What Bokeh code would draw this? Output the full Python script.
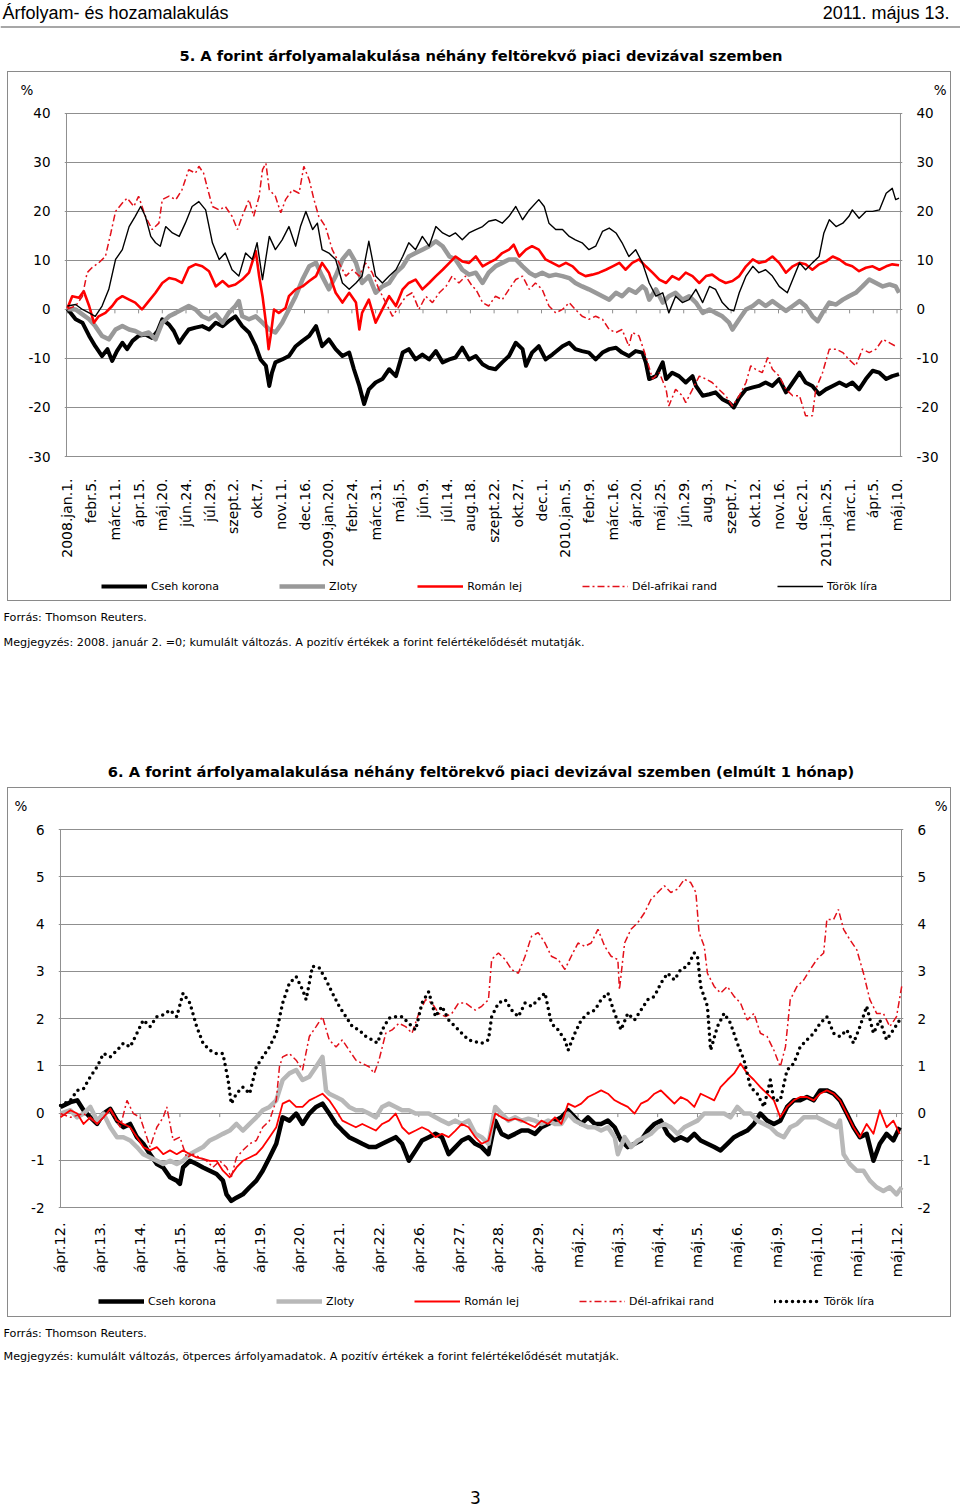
import math
from bokeh.plotting import figure
from bokeh.models import Range1d, FixedTicker, LinearAxis, Legend, LegendItem, Span
from bokeh.layouts import column
from bokeh.core.properties import value
from bokeh.embed import file_html
from bokeh.resources import INLINE

# ================= Chart 5: daily data, x = days since 2008-01-01 =================
c5_tick_labels = ["2008.jan.1.", "febr.5.", "márc.11.", "ápr.15.", "máj.20.", "jún.24.", "júl.29.",
                  "szept.2.", "okt.7.", "nov.11.", "dec.16.", "2009.jan.20.", "febr.24.", "márc.31.",
                  "máj.5.", "jún.9.", "júl.14.", "aug.18.", "szept.22.", "okt.27.", "dec.1.",
                  "2010.jan.5.", "febr.9.", "márc.16.", "ápr.20.", "máj.25.", "jún.29.", "aug.3.",
                  "szept.7.", "okt.12.", "nov.16.", "dec.21.", "2011.jan.25.", "márc.1.", "ápr.5.", "máj.10."]
c5_tick_days = [35 * i for i in range(len(c5_tick_labels))]
c5_yticks = [-30, -20, -10, 0, 10, 20, 30, 40]

cseh5_x = [0, 12, 22, 32, 41, 51, 59, 66, 73, 81, 88, 96, 105, 115, 125, 133, 140, 150, 157, 165, 172, 179, 189,
           199, 209, 219, 229, 238, 248, 258, 268, 278, 285, 293, 298, 302, 307, 317, 327, 337, 347, 357, 367,
           376, 386, 396, 406, 416, 423, 431, 438, 445, 455, 465, 475, 485, 495, 504, 514, 524, 534, 544, 554,
           564, 573, 583, 593,
           603, 613, 622, 632, 642, 652, 662, 672, 677, 686, 696, 706, 716, 731, 741, 750, 760, 770, 780, 790,
           800, 810, 819, 829, 839, 849, 854, 859, 869, 879, 884, 893, 903, 913, 923, 928, 938, 948, 957, 967,
           977, 984, 992, 1002, 1012, 1021, 1031, 1041, 1051, 1061, 1071, 1081, 1090, 1100, 1110, 1120, 1130,
           1140, 1150, 1159, 1169, 1179, 1189, 1199, 1209, 1218, 1228]
cseh5_y = [0.1, -2.0, -2.7, -5.4, -7.5, -9.5, -8.1, -10.5, -8.5, -6.8, -8.1, -6.4, -5.4, -5.1, -5.8, -4.4, -2.0,
           -3.1, -4.4, -6.8, -5.4, -4.1, -3.7, -3.4, -4.1, -2.7, -3.4, -2.4, -1.4, -3.4, -4.7, -7.5, -10.2, -11.5,
           -15.6, -12.9, -10.8, -10.2, -9.5, -7.5, -6.4, -5.4, -3.4, -7.5, -6.1, -8.1, -9.5, -8.8, -12.2, -15.6,
           -19.3, -16.3, -14.9, -14.2, -12.2, -13.6, -8.8, -8.1, -10.2, -9.2, -10.2, -8.5, -10.8, -10.2, -9.8,
           -7.8, -10.2,
           -9.5, -11.2, -11.9, -12.2, -10.8, -9.5, -6.8, -8.1, -11.5, -8.8, -7.5, -10.2, -9.2, -7.5, -6.8, -8.1,
           -8.5, -8.8, -10.2, -8.8, -8.1, -7.8, -8.8, -9.5, -8.5, -8.8, -10.8, -14.2, -13.6, -10.8, -14.2, -12.9,
           -13.6, -14.9, -13.6, -15.6, -17.6, -17.3, -16.9, -18.3, -19.0, -20.0, -18.0, -16.3, -15.9, -15.6,
           -14.9, -15.6, -14.2, -16.9, -14.9, -12.9, -14.9, -15.6, -17.3, -16.3, -15.6, -14.9, -15.6, -14.9,
           -16.3, -14.2, -12.5, -12.9, -14.2, -13.6, -13.2]

zloty5_x = [0, 12, 22, 32, 41, 51, 61, 71, 81, 91, 100, 110, 120, 130, 140, 150, 160, 169, 179, 189, 199, 209,
            219, 229, 238, 248, 253, 258, 268, 278, 288, 298, 307, 317, 327, 337, 347, 357, 367, 376, 386, 396,
            406, 416, 426, 435, 445, 455, 465, 475, 485, 495, 504, 514, 524, 534, 544, 554, 564, 573, 583, 593,
            603, 613, 622, 632, 642, 652, 662, 672, 682, 691, 701, 711, 721, 731, 741, 750, 760, 770, 780, 790,
            800, 810, 819, 829, 839, 849, 854, 859, 869, 879, 888, 898, 908, 918, 928, 938, 948, 957, 967, 977,
            982, 992, 1002, 1012, 1021, 1031, 1041, 1051, 1061, 1071, 1081, 1090, 1100, 1108, 1115, 1125, 1135,
            1145, 1154, 1164, 1174, 1184, 1194, 1204, 1214, 1223, 1228]
zloty5_y = [0.1, 0, -1.0, -2.0, -3.4, -5.4, -6.1, -4.1, -3.4, -4.1, -4.4, -5.1, -4.7, -6.1, -2.7, -1.4, -0.7, 0,
            0.7, 0, -1.4, -2.0, -1.0, -2.7, -0.7, 0.7, 1.7, -1.4, -2.0, -1.4, -2.7, -4.1, -4.7, -2.7, 0, 2.7, 6.1,
            8.8, 9.5, 6.8, 4.1, 6.8, 10.2, 11.9, 9.5, 5.4, 6.8, 3.4, 4.7, 5.4, 7.5, 8.8, 10.8, 11.5, 12.2, 12.9,
            13.9, 12.9, 10.8, 10.2, 8.1, 7.1,
            7.5, 5.4, 7.5, 8.8, 9.5, 10.2, 10.2, 8.8, 7.5, 6.8, 7.5, 6.8, 7.1, 6.8, 6.4, 5.4, 4.7, 4.1, 3.4, 2.7,
            2.0, 3.4, 2.7, 4.1, 3.4, 4.7, 4.1, 2.0, 4.1, 1.4, 2.7, 3.4, 2.0, 2.7, 1.4, -0.7, 0, -0.7, -1.4, -2.7,
            -4.1, -2.0, 0, 0.7, 1.7, 0.7, 1.7, 0.7, -0.3, 0.7, 1.7, 0.7, -1.4, -2.4, -0.7, 1.4, 1.0, 2.0, 2.7,
            3.4, 4.7, 6.1, 5.4, 4.7, 5.1, 4.7, 3.4]

roman5_x = [0, 7, 17, 24, 32, 39, 46, 56, 66, 73, 81, 91, 100, 110, 120, 130, 140, 150, 160, 169, 179, 189, 199,
            209, 219, 229, 238, 248, 258, 268, 278, 283, 288, 293, 297, 300, 305, 312, 322, 327, 337, 347, 357,
            367, 376, 386, 396, 406, 416, 426, 431, 435, 445, 455, 465, 475, 485, 495, 504, 514, 524, 534, 544,
            554, 564, 573, 583, 593,
            603, 613, 622, 632, 642, 652, 659, 667, 677, 686, 696, 706, 716, 726, 736, 746, 755, 765, 775, 785,
            795, 805, 815, 824, 834, 844, 854, 864, 874, 884, 893, 903, 913, 923, 933, 943, 952, 962, 972, 982,
            992, 1002, 1012, 1021, 1031, 1041, 1051, 1061, 1071, 1081, 1090, 1100, 1110, 1120, 1130, 1140, 1150,
            1159, 1169, 1179, 1189, 1199, 1209, 1218, 1228]
roman5_y = [0.3, 2.7, 2.4, 3.7, 0.7, -2.7, -1.4, -0.7, 0.7, 2.0, 2.7, 2.0, 1.4, 0, 1.7, 3.4, 5.4, 6.4, 6.1, 5.4,
            8.5, 9.2, 8.8, 7.8, 4.7, 5.8, 4.7, 5.1, 6.1, 7.5, 11.9, 6.8, 2.7, -2.7, -8.1, -5.4, 0, -0.7, 0.3, 2.7,
            4.1, 4.7, 5.8, 6.8, 9.5, 7.5, 3.4, 1.4, 3.4, 1.4, -4.1, -0.7, 2.0, -2.7, 0, 2.7, 0.7, 4.1, 5.4, 6.1,
            4.1, 5.4, 6.8, 8.1, 9.5, 10.8, 9.8, 9.5,
            10.8, 8.8, 9.5, 10.2, 11.5, 12.2, 13.2, 10.8, 12.2, 12.9, 12.2, 10.2, 9.5, 8.8, 9.5, 8.8, 7.5, 6.8,
            7.1, 7.5, 8.1, 8.8, 9.5, 8.1, 9.5, 10.2, 8.8, 7.5, 6.1, 5.4, 6.8, 6.1, 7.5, 6.8, 5.4, 6.8, 7.1, 6.1,
            5.4, 5.8, 6.8, 8.8, 10.2, 9.5, 9.8, 10.8, 9.5, 7.5, 8.8, 9.5, 9.2, 8.1, 9.2, 9.8, 10.8, 10.2, 9.2,
            8.8, 7.8, 8.5, 8.8, 8.1, 8.8, 9.2, 9.0]

rand5_x = [0, 12, 22, 29, 36, 46, 56, 64, 71, 81, 88, 98, 105, 115, 125, 135, 140, 150, 160, 169, 179, 189, 194,
           201, 206, 214, 224, 233, 243, 251, 258, 268, 275, 283, 288, 293, 298, 307, 315, 322, 332, 342, 349,
           357, 364, 371, 381, 391, 401, 411, 421, 431, 440, 450, 460, 470, 480, 490, 500, 509, 519, 529, 539,
           549, 559, 568, 578, 588, 598,
           603, 613, 622, 632, 642, 652, 662, 672, 682, 691, 701, 711, 721, 731, 741, 750, 760, 770, 780, 790,
           800, 810, 819, 829, 834, 844, 854, 864, 874, 884, 888, 898, 908, 913, 923, 933, 943, 952, 962, 972,
           982, 992, 1002, 1009, 1016, 1026, 1034, 1041, 1051, 1061, 1071, 1081, 1090, 1100, 1105, 1115, 1125,
           1135, 1145, 1154, 1164, 1174, 1184, 1194, 1204, 1214, 1223]
rand5_y = [0.1, 0.7, 2.7, 7.5, 8.5, 9.5, 10.8, 15.6, 20.0, 21.7, 22.7, 21.0, 23.1, 19.0, 16.3, 17.6, 22.4, 23.1,
           22.4, 24.4, 28.5, 27.8, 29.2, 27.8, 25.1, 21.0, 20.3, 21.0, 19.0, 16.3, 19.0, 22.4, 19.0, 23.1, 28.5,
           29.8, 24.4, 23.1, 19.7, 22.4, 24.4, 23.7, 29.2, 26.4, 22.4, 19.0, 16.9, 12.2, 9.5, 6.8, 8.1, 6.8, 9.5,
           7.5, 4.1, 1.4, -1.4, 0.7, 2.7, 3.4, 0, 2.7, 1.4, 3.4, 4.7, 6.8, 5.4, 6.8, 4.7,
           4.1, 1.4, 0.7, 2.7, 2.0, 4.1, 6.1, 6.8, 4.1, 5.4, 4.1, 0.7, -0.7, 0, 1.4, 0, -1.4, -2.0, -1.4, -2.0,
           -4.1, -4.7, -4.1, -7.5, -4.7, -5.4, -9.5, -14.2, -12.9, -16.3, -19.7, -16.3, -17.6, -19.0, -16.3,
           -13.6, -14.2, -14.9, -16.3, -17.6, -19.7, -17.6, -14.9, -11.5, -12.2, -12.9, -9.8, -12.2, -13.6,
           -16.3, -17.6, -17.6, -21.7, -21.7, -16.3, -12.9, -8.1, -8.1, -8.8, -10.2, -11.5, -8.1, -8.8, -8.1,
           -6.1, -6.8, -7.5]

torok5_x = [0, 12, 22, 32, 41, 51, 61, 71, 81, 91, 100, 108, 115, 123, 130, 137, 145, 155, 165, 174, 184, 194,
            204, 214, 224, 233, 243, 253, 263, 273, 280, 288, 298, 307, 317, 327, 337, 344, 352, 362, 369, 376,
            386, 396, 406, 416, 426, 435, 445, 455, 465, 475, 485, 495, 504, 514, 524, 534, 544, 554, 564, 573,
            583, 593,
            603, 613, 622, 632, 642, 652, 662, 672, 682, 696, 704, 711, 721, 731, 741, 750, 760, 770, 780, 790,
            800, 810, 819, 829, 839, 849, 859, 869, 879, 888, 898, 908, 918, 928, 938, 948, 957, 967, 977, 984,
            992, 1002, 1012, 1021, 1031, 1041, 1051, 1063, 1071, 1081, 1090, 1100, 1110, 1117, 1125, 1135, 1145,
            1154, 1159, 1169, 1179, 1189, 1199, 1209, 1218, 1223, 1228]
torok5_y = [0.7, 1.0, 0, -0.7, -1.4, 0.7, 4.1, 10.2, 12.2, 16.9, 19.0, 21.0, 19.0, 14.9, 13.6, 12.9, 16.9, 15.6,
            14.9, 17.6, 21.0, 22.0, 20.3, 13.6, 10.2, 11.5, 8.1, 6.8, 11.5, 10.2, 13.6, 6.1, 14.9, 12.2, 14.2,
            16.9, 12.9, 16.9, 20.0, 16.3, 17.6, 12.2, 11.5, 10.2, 5.4, 4.1, 5.4, 6.8, 13.9, 6.8, 5.4, 6.8, 8.1,
            10.8, 13.6, 12.2, 14.9, 12.9, 16.9, 15.6, 14.9, 15.6, 14.2, 15.6,
            16.3, 16.9, 18.0, 18.3, 17.6, 19.0, 21.0, 18.3, 20.3, 22.4, 21.0, 17.6, 16.3, 16.3, 14.9, 14.2, 13.6,
            12.2, 12.9, 15.9, 16.6, 15.6, 13.6, 10.8, 12.2, 9.5, 5.4, 2.7, 3.4, -0.7, 2.7, 1.4, 2.0, 4.1, 1.4,
            4.7, 4.1, 1.4, 0, -0.3, 3.4, 6.8, 8.8, 7.5, 8.1, 6.8, 4.7, 3.4, 6.1, 9.5, 8.1, 9.5, 10.8, 15.6, 18.3,
            16.9, 17.6, 19.0, 20.3, 18.6, 20.0, 20.0, 20.3, 23.7, 24.7, 22.4, 22.7]

# ================= Chart 6: five-minute data, x = trading-day index from 12 April =================
c6_tick_labels = ["ápr.12.", "ápr.13.", "ápr.14.", "ápr.15.", "ápr.18.", "ápr.19.", "ápr.20.", "ápr.21.",
                  "ápr.22.", "ápr.26.", "ápr.27.", "ápr.28.", "ápr.29.", "máj.2.", "máj.3.", "máj.4.",
                  "máj.5.", "máj.6.", "máj.9.", "máj.10.", "máj.11.", "máj.12."]
c6_tick_pos = list(range(len(c6_tick_labels)))
c6_yticks = [-2, -1, 0, 1, 2, 3, 4, 5, 6]

cseh6_x = [0, 0.25, 0.42, 0.58, 0.75, 0.92, 1.08, 1.25, 1.42, 1.58, 1.75, 1.92, 2.08, 2.25, 2.42, 2.58, 2.75,
           2.92, 3.0, 3.08, 3.25, 3.42, 3.58, 3.75, 3.92, 4.08, 4.17, 4.29, 4.42, 4.58, 4.75, 4.92, 5.08, 5.25,
           5.42, 5.58, 5.75, 5.92, 6.08, 6.25, 6.42, 6.58, 6.75, 6.92, 7.08, 7.25, 7.42, 7.58, 7.75, 7.92, 8.08,
           8.25, 8.42, 8.58, 8.75, 8.92, 9.08, 9.25, 9.42, 9.58, 9.75, 9.92, 10.08, 10.25,
           10.42, 10.58, 10.75, 10.92, 11.08, 11.25, 11.42, 11.58, 11.75, 11.92, 12.08, 12.25, 12.42, 12.58,
           12.75, 12.92, 13.08, 13.25, 13.42, 13.58, 13.75, 13.92, 14.08, 14.25, 14.42, 14.58, 14.75, 14.92,
           15.08, 15.25, 15.42, 15.58, 15.75, 15.92, 16.08, 16.25, 16.42, 16.58, 16.75, 16.92, 17.08, 17.25,
           17.42, 17.58, 17.75, 17.92, 18.08, 18.25, 18.42, 18.58, 18.75, 18.92, 19.08, 19.25, 19.42, 19.58,
           19.75, 19.92, 20.08, 20.25, 20.42, 20.58, 20.75, 20.92, 21.08]
cseh6_y = [0.13, 0.23, 0.27, 0.06, -0.09, -0.23, -0.01, 0.09, -0.16, -0.3, -0.23, -0.51, -0.65, -0.87, -1.08,
           -1.15, -1.36, -1.43, -1.5, -1.15, -1.01, -1.08, -1.15, -1.22, -1.29, -1.43, -1.72, -1.86, -1.79,
           -1.72, -1.57, -1.43, -1.22, -0.94, -0.65, -0.09, -0.16, -0.01, -0.23, -0.01, 0.13, 0.2, -0.01, -0.23,
           -0.37, -0.51, -0.58, -0.65, -0.72, -0.72, -0.65, -0.58, -0.51, -0.65, -1.01, -0.79, -0.58, -0.51,
           -0.44, -0.51, -0.87, -0.72, -0.58, -0.51,
           -0.65, -0.72, -0.87, -0.16, -0.44, -0.51, -0.44, -0.37, -0.37, -0.44, -0.3, -0.23, -0.16, -0.09,
           0.06, -0.09, -0.23, -0.09, -0.23, -0.23, -0.16, -0.3, -0.58, -0.72, -0.65, -0.58, -0.37, -0.23,
           -0.16, -0.44, -0.58, -0.51, -0.58, -0.44, -0.58, -0.65, -0.72, -0.79, -0.65, -0.51, -0.44, -0.37,
           -0.23, -0.01, -0.16, -0.23, -0.16, 0.13, 0.27, 0.27, 0.34, 0.27, 0.48, 0.48, 0.41, 0.27, -0.01, -0.3,
           -0.51, -0.44, -1.01, -0.65, -0.44, -0.58, -0.3]

zloty6_x = [0, 0.25, 0.42, 0.58, 0.75, 0.92, 1.08, 1.25, 1.42, 1.58, 1.75, 1.92, 2.08, 2.25, 2.42, 2.58, 2.75,
            2.92, 3.08, 3.25, 3.42, 3.58, 3.75, 3.92, 4.08, 4.25, 4.42, 4.58, 4.75, 4.92, 5.08, 5.25, 5.42, 5.58,
            5.75, 5.92, 6.08, 6.25, 6.42, 6.58, 6.67, 6.75, 6.92, 7.08, 7.25, 7.42, 7.58, 7.75, 7.92, 8.08, 8.25,
            8.42, 8.58, 8.75, 8.92, 9.08, 9.25, 9.42, 9.58, 9.75, 9.92, 10.08, 10.25,
            10.42, 10.58, 10.75, 10.92, 11.08, 11.25, 11.42, 11.58, 11.75, 11.92, 12.08, 12.25, 12.42, 12.58,
            12.75, 12.92, 13.08, 13.25, 13.42, 13.58, 13.75, 13.92, 14.0, 14.17, 14.33, 14.5, 14.67, 14.83, 15.0,
            15.17, 15.33, 15.5, 15.67, 15.83, 16.0, 16.17, 16.33, 16.5, 16.67, 16.83, 17.0, 17.17, 17.33, 17.5,
            17.67, 17.83, 18.0, 18.17, 18.33, 18.5, 18.67, 18.83, 19.0, 19.17, 19.33, 19.5, 19.58, 19.67, 19.83,
            20.0, 20.17, 20.33, 20.5, 20.67, 20.83, 21.0, 21.13]
zloty6_y = [-0.01, 0.06, -0.09, -0.01, 0.13, -0.16, -0.01, -0.3, -0.51, -0.51, -0.58, -0.72, -0.87, -0.94, -1.01,
            -1.08, -1.01, -1.08, -1.01, -0.87, -0.79, -0.72, -0.58, -0.51, -0.44, -0.37, -0.23, -0.37, -0.23,
            -0.09, 0.06, 0.13, 0.27, 0.7, 0.84, 0.91, 0.7, 0.77, 0.98, 1.19, 0.48, 0.41, 0.34, 0.27, 0.13, 0.06,
            0.06, -0.01, -0.09, 0.13, 0.2, 0.13, 0.06, 0.06, -0.01, -0.01, -0.01, -0.09, -0.16, -0.23, -0.16,
            -0.23, -0.16,
            -0.44, -0.51, -0.65, 0.13, -0.01, -0.16, -0.09, -0.16, -0.12, -0.16, -0.23, -0.16, -0.23, -0.23,
            -0.01, -0.16, -0.23, -0.3, -0.3, -0.37, -0.3, -0.51, -0.87, -0.51, -0.72, -0.58, -0.51, -0.44, -0.3,
            -0.23, -0.3, -0.44, -0.3, -0.23, -0.16, -0.01, -0.01, -0.01, -0.01, -0.09, 0.13, -0.01, -0.01, -0.16,
            -0.23, -0.3, -0.44, -0.51, -0.3, -0.23, -0.09, -0.09, -0.09, -0.16, -0.23, -0.3, -0.16, -0.87, -1.08,
            -1.22, -1.22, -1.43, -1.57, -1.65, -1.57, -1.72, -1.57]

roman6_x = [0, 0.25, 0.42, 0.58, 0.75, 0.92, 1.08, 1.25, 1.42, 1.58, 1.75, 1.92, 2.08, 2.25, 2.42, 2.58, 2.75,
            2.92, 3.08, 3.25, 3.42, 3.58, 3.75, 3.92, 4.08, 4.25, 4.42, 4.58, 4.75, 4.92, 5.08, 5.25, 5.42, 5.58,
            5.75, 5.92, 6.08, 6.25, 6.42, 6.58, 6.75, 6.92, 7.08, 7.25, 7.42, 7.58, 7.75, 7.92, 8.08, 8.25, 8.42,
            8.58, 8.75, 8.92, 9.08, 9.25, 9.42, 9.58, 9.75, 9.92, 10.08, 10.25,
            10.42, 10.58, 10.75, 10.92, 11.08, 11.25, 11.42, 11.58, 11.75, 11.92, 12.08, 12.25, 12.42, 12.58,
            12.75, 12.92, 13.08, 13.25, 13.42, 13.58, 13.75, 13.92, 14.08, 14.25, 14.42, 14.58, 14.75, 14.92,
            15.08, 15.25, 15.42, 15.58, 15.75, 15.92, 16.08, 16.25, 16.42, 16.58, 16.75, 16.92, 17.08, 17.25,
            17.42, 17.58, 17.75, 17.92, 18.08, 18.25, 18.42, 18.58, 18.75, 18.92, 19.08, 19.25, 19.42, 19.58,
            19.75, 19.92, 20.08, 20.25, 20.42, 20.58, 20.75, 20.92, 21.08]
roman6_y = [-0.09, 0.06, -0.01, -0.23, -0.09, -0.23, -0.09, 0.09, -0.16, -0.23, -0.3, -0.51, -0.72, -0.79, -0.72,
            -0.87, -0.79, -0.87, -0.79, -0.87, -0.94, -0.97, -1.01, -1.01, -1.22, -1.36, -1.15, -1.01, -0.94,
            -0.87, -0.72, -0.51, -0.3, 0.2, 0.27, 0.13, 0.13, 0.27, 0.34, 0.41, 0.27, 0.06, -0.16, -0.23, -0.3,
            -0.23, -0.3, -0.37, -0.23, -0.16, -0.01, -0.3, -0.44, -0.37, -0.3, -0.37, -0.51, -0.44, -0.51, -0.37,
            -0.23, -0.3,
            -0.51, -0.65, -0.58, -0.01, -0.09, -0.16, -0.12, -0.16, -0.23, -0.3, -0.16, -0.23, -0.09, -0.23, 0.2,
            0.13, 0.2, 0.34, 0.41, 0.48, 0.41, 0.27, 0.2, 0.13, -0.01, 0.2, 0.27, 0.41, 0.48, 0.34, 0.2, 0.34,
            0.27, 0.13, 0.41, 0.34, 0.27, 0.55, 0.7, 0.84, 1.05, 0.84, 0.7, 0.55, 0.41, 0.27, -0.09, 0.13, 0.27,
            0.34, 0.34, 0.27, 0.41, 0.48, 0.41, 0.27, -0.01, -0.3, -0.51, -0.23, -0.44, 0.06, -0.3, -0.16, -0.44]

rand6_x = [0, 0.25, 0.58, 0.92, 1.25, 1.5, 1.67, 1.83, 2.0, 2.25, 2.42, 2.58, 2.67, 2.83, 3.0, 3.17, 3.33, 3.5,
           3.67, 3.83, 4.0, 4.17, 4.29, 4.42, 4.58, 4.75, 4.92, 5.08, 5.25, 5.42, 5.5, 5.58, 5.75, 5.92, 6.08,
           6.25, 6.42, 6.58, 6.75, 6.92, 7.08, 7.25, 7.42, 7.58, 7.75, 7.88, 8.0, 8.17, 8.33, 8.5, 8.67, 8.83,
           9.0, 9.17, 9.33, 9.5, 9.67, 9.83, 10.0, 10.17,
           10.42, 10.58, 10.75, 10.83, 11.0, 11.17, 11.33, 11.5, 11.67, 11.83, 12.0, 12.17, 12.33, 12.5, 12.67,
           12.83, 13.0, 13.17, 13.33, 13.5, 13.67, 13.83, 14.0, 14.04, 14.17, 14.33, 14.5, 14.67, 14.83, 15.0,
           15.17, 15.33, 15.5, 15.67, 15.83, 15.96, 16.04, 16.17, 16.25, 16.42, 16.58, 16.75, 16.92, 17.08,
           17.25, 17.42, 17.58, 17.75, 17.92, 18.08, 18.21, 18.33, 18.5, 18.67, 18.83, 19.0, 19.17, 19.25,
           19.42, 19.54, 19.67, 19.83, 20.0, 20.17, 20.33, 20.5, 20.67, 20.83, 21.0, 21.13]
rand6_y = [-0.01, -0.09, -0.01, -0.23, 0.06, -0.3, 0.27, -0.01, -0.09, -0.72, -0.3, -0.09, 0.13, -0.58, -0.51,
           -0.94, -0.87, -0.94, -1.01, -1.15, -1.01, -1.15, -1.36, -0.94, -0.79, -0.65, -0.58, -0.3, -0.16, 0.27,
           0.98, 1.19, 1.26, 1.12, 0.91, 1.62, 1.83, 2.04, 1.55, 1.4, 1.55, 1.33, 1.12, 1.05, 0.98, 0.84, 1.12,
           1.69, 1.76, 1.9, 1.83, 1.69, 2.11, 2.4, 2.33, 2.11, 2.04, 2.11, 2.33, 2.33,
           2.18, 2.26, 2.4, 3.25, 3.39, 3.25, 3.04, 2.96, 3.32, 3.74, 3.82, 3.6, 3.32, 3.25, 3.04, 3.32, 3.6,
           3.53, 3.6, 3.89, 3.53, 3.32, 3.25, 2.61, 3.6, 3.89, 4.03, 4.24, 4.52, 4.67, 4.81, 4.67, 4.74, 4.95,
           4.88, 4.67, 3.82, 3.53, 2.96, 2.68, 2.54, 2.68, 2.47, 2.33, 1.97, 2.11, 1.69, 1.62, 1.33, 0.98, 1.4,
           2.4, 2.68, 2.82, 3.04, 3.25, 3.39, 4.1, 4.1, 4.31, 3.89, 3.67, 3.46, 2.96, 2.4, 2.11, 2.11, 1.83,
           2.04, 2.68]

torok6_x = [0, 0.25, 0.42, 0.58, 0.75, 0.92, 1.08, 1.25, 1.42, 1.58, 1.75, 1.92, 2.08, 2.25, 2.42, 2.58, 2.75,
            2.92, 3.08, 3.25, 3.42, 3.58, 3.75, 3.92, 4.08, 4.21, 4.29, 4.42, 4.58, 4.75, 4.92, 5.08, 5.25, 5.42,
            5.58, 5.75, 5.92, 6.08, 6.17, 6.33, 6.5, 6.67, 6.83, 7.0, 7.17, 7.33, 7.5, 7.67, 7.83, 7.96, 8.08,
            8.25, 8.42, 8.58, 8.75, 8.92, 9.08, 9.25, 9.42, 9.58, 9.75, 9.92, 10.08, 10.25,
            10.42, 10.58, 10.75, 10.83, 11.0, 11.17, 11.33, 11.5, 11.67, 11.83, 12.0, 12.17, 12.33, 12.5, 12.67,
            12.75, 12.92, 13.08, 13.25, 13.42, 13.58, 13.75, 13.92, 14.08, 14.25, 14.42, 14.58, 14.75, 14.92,
            15.08, 15.25, 15.42, 15.58, 15.75, 15.92, 16.0, 16.08, 16.25, 16.33, 16.5, 16.67, 16.83, 17.0, 17.17,
            17.33, 17.5, 17.67, 17.83, 17.92, 18.08, 18.25, 18.42, 18.58, 18.75, 18.92, 19.08, 19.25, 19.42,
            19.58, 19.75, 19.92, 20.08, 20.25, 20.42, 20.58, 20.75, 20.92, 21.08]
torok6_y = [0.16, 0.27, 0.48, 0.52, 0.77, 0.98, 1.26, 1.19, 1.33, 1.48, 1.4, 1.69, 1.97, 1.83, 2.04, 2.08, 2.18,
            2.04, 2.54, 2.33, 1.83, 1.48, 1.33, 1.26, 1.26, 0.7, 0.2, 0.41, 0.55, 0.41, 0.98, 1.19, 1.4, 1.69,
            2.33, 2.75, 2.89, 2.61, 2.4, 3.11, 3.07, 2.82, 2.54, 2.26, 2.04, 1.83, 1.76, 1.62, 1.55, 1.48, 1.76,
            2.01, 2.04, 2.04, 1.9, 1.76, 2.33, 2.57, 2.04, 2.26, 1.97, 1.83, 1.69, 1.55,
            1.51, 1.48, 1.55, 2.04, 2.33, 2.4, 2.18, 2.04, 2.33, 2.26, 2.4, 2.54, 1.9, 1.76, 1.55, 1.33, 1.69,
            1.97, 2.11, 2.18, 2.4, 2.54, 2.11, 1.76, 2.11, 1.97, 2.18, 2.4, 2.47, 2.75, 2.96, 2.82, 3.04, 3.11,
            3.39, 3.32, 2.68, 2.26, 1.33, 1.83, 2.11, 1.9, 1.48, 1.12, 0.55, 0.41, 0.13, 0.7, 0.27, 0.27, 0.91,
            1.05, 1.4, 1.55, 1.69, 1.9, 2.04, 1.69, 1.62, 1.76, 1.48, 1.83, 2.26, 1.69, 1.97, 1.55, 1.76, 1.97]

series_names = ["Cseh korona", "Zloty", "Román lej", "Dél-afrikai rand", "Török líra"]

for a, b in [(cseh5_x, cseh5_y), (zloty5_x, zloty5_y), (roman5_x, roman5_y), (rand5_x, rand5_y),
             (torok5_x, torok5_y), (cseh6_x, cseh6_y), (zloty6_x, zloty6_y), (roman6_x, roman6_y),
             (rand6_x, rand6_y), (torok6_x, torok6_y)]:
    assert len(a) == len(b), (len(a), len(b))

# ================= styling =================
FONT = "DejaVu Sans"
GRID = "#8f8f8f"
BOX = "#8a8a8a"
NB = "\u00a0"

style5 = [dict(line_color="#000000", line_width=4, line_join="round"),
          dict(line_color="#999999", line_width=4.5, line_join="round"),
          dict(line_color="#ff0000", line_width=2.6, line_join="round"),
          dict(line_color="#e3101a", line_width=1.5, line_dash="7 3 2 3"),
          dict(line_color="#000000", line_width=1.4, line_join="round")]
style6 = [dict(line_color="#000000", line_width=4.5, line_join="round"),
          dict(line_color="#b8b8b8", line_width=4.5, line_join="round"),
          dict(line_color="#ff0000", line_width=1.8, line_join="round"),
          dict(line_color="#e3101a", line_width=1.5, line_dash="7 3 2 3"),
          dict(line_color="#000000", line_width=3.5, line_dash="0 6", line_cap="round")]
data5 = [(cseh5_x, cseh5_y), (zloty5_x, zloty5_y), (roman5_x, roman5_y), (rand5_x, rand5_y), (torok5_x, torok5_y)]
data6 = [(cseh6_x, cseh6_y), (zloty6_x, zloty6_y), (roman6_x, roman6_y), (rand6_x, rand6_y), (torok6_x, torok6_y)]


def no_align(f):
    try:
        f.frame_align = False
    except Exception:
        pass


def text_fig(h, w=960):
    f = figure(width=w, height=h, x_range=Range1d(0, w), y_range=Range1d(h, 0),
               output_backend="svg", toolbar_location=None, min_border=0,
               x_axis_type=None, y_axis_type=None, outline_line_color=None)
    f.xgrid.visible = False
    f.ygrid.visible = False
    no_align(f)
    return f


def put(f, x, y, s, size, align="left", bold=False, font=FONT, baseline="middle"):
    f.text(x=[x], y=[y], text=[s], text_font=value(font), text_font_size=size,
           text_font_style="bold" if bold else "normal", text_align=align,
           text_baseline=baseline, text_color="#000000")


def chart(h, xr, yr, borders, yticks, pct_y, xticks, xlabels, xsize, xstand, zero_tick, edge_x):
    p = figure(width=942, height=h, x_range=Range1d(*xr), y_range=Range1d(*yr),
               output_backend="svg", toolbar_location=None,
               min_border_left=borders[0], min_border_right=borders[1],
               min_border_top=borders[2], min_border_bottom=borders[3])
    no_align(p)
    p.outline_line_color = None
    p.xgrid.visible = False
    p.ygrid.ticker = FixedTicker(ticks=yticks)
    p.ygrid.grid_line_color = GRID
    rax = LinearAxis()
    p.add_layout(rax, "right")
    left_lab = {t: str(t) for t in yticks}
    left_lab[pct_y] = "%" + NB * 4
    right_lab = {t: str(t) for t in yticks}
    right_lab[pct_y] = NB * 4 + "%"
    for ax, labs in ((p.yaxis[0], left_lab), (rax, right_lab)):
        ax.ticker = FixedTicker(ticks=yticks + [pct_y])
        ax.major_label_overrides = labs
        ax.axis_line_color = None
        ax.major_tick_line_color = None
        ax.major_tick_out = 0
        ax.major_tick_in = 0
        ax.minor_tick_line_color = None
        ax.major_label_standoff = 14
        ax.major_label_text_font = FONT
        ax.major_label_text_font_size = "13.5px"
        ax.major_label_text_color = "#000000"
    xa = p.xaxis[0]
    xa.ticker = FixedTicker(ticks=xticks)
    xa.major_label_overrides = {t: l for t, l in zip(xticks, xlabels)}
    xa.major_label_orientation = math.pi / 2
    xa.axis_line_color = None
    xa.major_tick_line_color = None
    xa.major_tick_out = 0
    xa.major_tick_in = 0
    xa.minor_tick_line_color = None
    xa.major_label_standoff = xstand
    xa.major_label_text_font = FONT
    xa.major_label_text_font_size = xsize
    xa.major_label_text_color = "#000000"
    # vertical axis lines at the plot-area edges, spanning the tick range
    p.segment(x0=edge_x, y0=[yticks[0]] * 2, x1=edge_x, y1=[yticks[-1]] * 2, line_color=GRID, line_width=1)
    # small tick marks on the zero line
    n = len(xticks)
    p.segment(x0=xticks, y0=[0] * n, x1=xticks, y1=[-zero_tick] * n, line_color=GRID, line_width=1)
    return p


def legend_fig(h, styles, data, loc):
    # legend strip inside the chart box; its ranges lie far away from the data, so only the key is seen
    f = figure(width=942, height=h, x_range=Range1d(1e6, 1e6 + 1), y_range=Range1d(1e6, 1e6 + 1),
               output_backend="svg", toolbar_location=None, min_border=0,
               x_axis_type=None, y_axis_type=None, outline_line_color=None)
    f.xgrid.visible = False
    f.ygrid.visible = False
    no_align(f)
    rends = [f.line(xs, ys, **st) for (xs, ys), st in zip(data, styles)]
    items = [LegendItem(label=nm, renderers=[r]) for nm, r in zip(series_names, rends)]
    leg = Legend(items=items, location=loc, orientation="horizontal", padding=0, margin=0,
                 spacing=60, glyph_width=46, glyph_height=14, label_height=14, label_standoff=4,
                 label_text_font=FONT, label_text_font_size="11px", label_text_color="#000000",
                 border_line_color=None, background_fill_alpha=0)
    f.add_layout(leg)
    return f


def boxed(*children):
    return column(*children, spacing=0, margin=(0, 0, 0, 7), styles={"border": "1px solid " + BOX})


# ---- header (page y 0-71) ----
head = text_fig(71)
put(head, 2, 12.5, "Árfolyam- és hozamalakulás", "18px", font="Liberation Sans")
put(head, 949, 12.5, "2011. május 13.", "18px", align="right", font="Liberation Sans")
head.add_layout(Span(location=26.5, dimension="width", line_color=BOX, line_width=1.5))
put(head, 480.5, 55, "5. A forint árfolyamalakulása néhány feltörekvő piaci devizával szemben", "14.7px",
    align="center", bold=True)

# ---- chart 5 (page y 71-601) ----
p1 = chart(500, (-4.43, 1233.1), (-30.2, 46.7), (56, 48, 8, 115), c5_yticks, 44.7,
           c5_tick_days, c5_tick_labels, "14px", 21, 0.8, [-1.48, 1230.1])
for (xs, ys), st in zip(data5, style5):
    p1.line(xs, ys, **st)
leg1 = legend_fig(28, style5, data5, (93, 7))
box1 = boxed(p1, leg1)

# ---- notes 1 + title 6 (page y 601-787) ----
mid = text_fig(186)
put(mid, 3, 16, "Forrás: Thomson Reuters.", "11.2px")
put(mid, 3, 41, "Megjegyzés: 2008. január 2. =0; kumulált változás. A pozitív értékek a forint felértékelődését mutatják.", "11.2px")
put(mid, 480.5, 170, "6. A forint árfolyamalakulása néhány feltörekvő piaci devizával szemben (elmúlt 1 hónap)",
    "14.7px", align="center", bold=True)

# ---- chart 6 (page y 787-1317) ----
p2 = chart(497, (-0.05, 21.175), (-2.02, 6.68), (50, 43, 9, 77), c6_yticks, 6.49,
           c6_tick_pos, c6_tick_labels, "14.5px", 14, 0.085, [0, 21.125])
for (xs, ys), st in zip(data6, style6):
    p2.line(xs, ys, **st)
leg2 = legend_fig(31, style6, data6, (90, 8))
box2 = boxed(p2, leg2)

# ---- notes 2 + page number (page y 1317-1509) ----
tail = text_fig(192)
put(tail, 3, 16, "Forrás: Thomson Reuters.", "11.2px")
put(tail, 3, 39, "Megjegyzés: kumulált változás, ötperces árfolyamadatok. A pozitív értékek a forint felértékelődését mutatják.", "11.2px")
put(tail, 475, 180, "3", "17px", align="center")

layout = column(head, box1, mid, box2, tail, spacing=0)
open("out.html", "w").write(file_html(layout, INLINE))
